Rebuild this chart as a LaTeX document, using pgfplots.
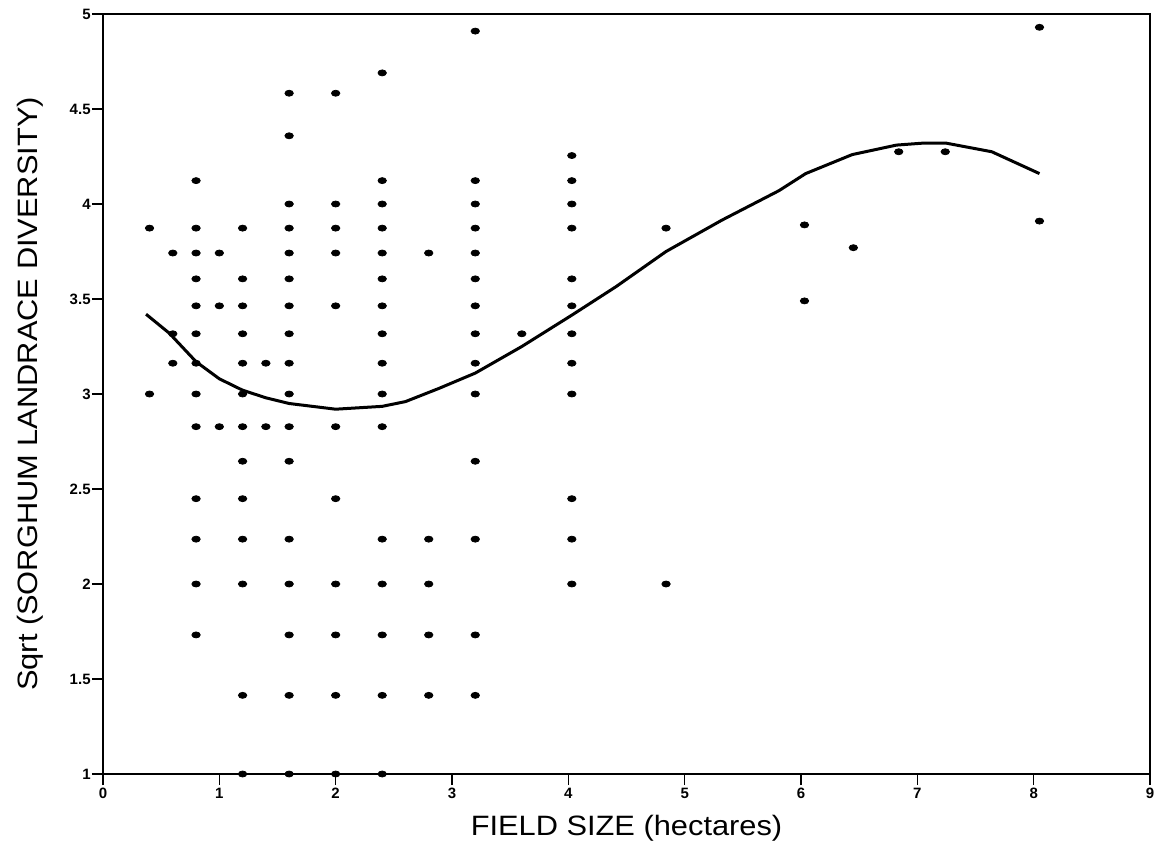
\documentclass[border=0pt]{standalone}
\usepackage{fontspec}
\setmainfont{Liberation Sans}
\newfontfamily\labelfont{Liberation Sans}[FakeStretch=1.1]
\usepackage{pgfplots}
\pgfplotsset{compat=1.18}
\begin{document}
\begin{tikzpicture}
\begin{axis}[
 at={(0,0)}, anchor=south west,
 scale only axis, width=523.5bp, height=380bp,
 xmin=0, xmax=9, ymin=1, ymax=5,
 xtick={0,1,2,3,4,5,6,7,8,9}, ytick={1,1.5,2,2.5,3,3.5,4,4.5,5},
 tick pos=left, tick align=outside, major tick length=5.5bp,
 axis line style={line width=1bp}, tick style={line width=0.8bp,black},
 /pgf/number format/assume math mode=true,
 ticklabel style={font=\fontsize{7.5bp}{9bp}\selectfont\bfseries},
 xticklabel style={inner sep=1.2bp},
 yticklabel style={inner sep=0.5bp},
 xlabel={FIELD SIZE (hectares)}, ylabel={Sqrt (SORGHUM LANDRACE DIVERSITY)},
 label style={font=\labelfont\fontsize{14bp}{16bp}\selectfont},
 xlabel style={at={(axis description cs:0.5,-0.0803)},anchor=base},
 ylabel style={at={(axis description cs:-0.063,0.5)},anchor=base},
]
\addplot[only marks, mark=*, mark size=1.5bp, mark options={xscale=1.4, fill=black, draw=black}] coordinates {
(0.4,3.873)(0.4,3.0)
(0.6,3.742)(0.6,3.317)(0.6,3.162)
(0.8,4.123)(0.8,3.873)(0.8,3.742)(0.8,3.606)(0.8,3.464)(0.8,3.317)(0.8,3.162)(0.8,3.0)(0.8,2.828)(0.8,2.449)(0.8,2.236)(0.8,2.0)(0.8,1.732)
(1.0,3.742)(1.0,3.464)(1.0,2.828)
(1.2,3.873)(1.2,3.606)(1.2,3.464)(1.2,3.317)(1.2,3.162)(1.2,3.0)(1.2,2.828)(1.2,2.646)(1.2,2.449)(1.2,2.236)(1.2,2.0)(1.2,1.414)(1.2,1.0)
(1.4,3.162)(1.4,2.828)
(1.6,4.583)(1.6,4.359)(1.6,4.0)(1.6,3.873)(1.6,3.742)(1.6,3.606)(1.6,3.464)(1.6,3.317)(1.6,3.162)(1.6,3.0)(1.6,2.828)(1.6,2.646)(1.6,2.236)(1.6,2.0)(1.6,1.732)(1.6,1.414)(1.6,1.0)
(2.0,4.583)(2.0,4.0)(2.0,3.873)(2.0,3.742)(2.0,3.464)(2.0,2.828)(2.0,2.449)(2.0,2.0)(2.0,1.732)(2.0,1.414)(2.0,1.0)
(2.4,4.69)(2.4,4.123)(2.4,4.0)(2.4,3.873)(2.4,3.742)(2.4,3.606)(2.4,3.464)(2.4,3.317)(2.4,3.162)(2.4,3.0)(2.4,2.828)(2.4,2.236)(2.4,2.0)(2.4,1.732)(2.4,1.414)(2.4,1.0)
(2.8,3.742)(2.8,2.236)(2.8,2.0)(2.8,1.732)(2.8,1.414)
(3.2,4.91)(3.2,4.123)(3.2,4.0)(3.2,3.873)(3.2,3.742)(3.2,3.606)(3.2,3.464)(3.2,3.317)(3.2,3.162)(3.2,3.0)(3.2,2.646)(3.2,2.236)(3.2,1.732)(3.2,1.414)
(3.6,3.317)
(4.03,4.255)(4.03,4.123)(4.03,4.0)(4.03,3.873)(4.03,3.606)(4.03,3.464)(4.03,3.317)(4.03,3.162)(4.03,3.0)(4.03,2.449)(4.03,2.236)(4.03,2.0)
(4.84,3.873)(4.84,2.0)
(6.03,3.89)(6.03,3.49)
(6.45,3.77)
(6.84,4.275)(7.24,4.275)
(8.05,4.93)(8.05,3.91)
};
\addplot[line width=1.5bp, black] coordinates {
(0.37,3.42)(0.57,3.32)(0.8,3.17)(1.0,3.08)(1.2,3.02)(1.4,2.98)(1.6,2.95)(2.0,2.92)(2.4,2.935)(2.6,2.96)(2.89,3.03)(3.2,3.11)(3.6,3.25)(4.03,3.415)(4.41,3.565)(4.84,3.75)(5.32,3.915)(5.81,4.07)(6.04,4.16)(6.44,4.26)(6.82,4.31)(7.04,4.32)(7.25,4.32)(7.64,4.275)(8.05,4.16)
};
\end{axis}
\pgfresetboundingbox
\path[use as bounding box] (-51.5bp,-39bp) rectangle (532.5bp,387bp);
\end{tikzpicture}
\end{document}
